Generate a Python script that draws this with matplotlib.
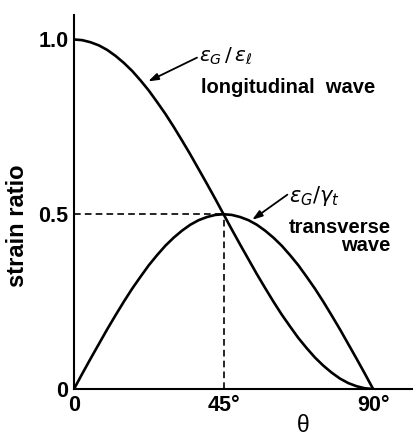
import matplotlib
matplotlib.use("Agg")
import matplotlib.pyplot as plt

# Angle of incidence (degrees) and strain ratios read at 2.5 degree steps
theta = [0, 2.5, 5, 7.5, 10, 12.5, 15, 17.5, 20, 22.5, 25, 27.5, 30, 32.5,
         35, 37.5, 40, 42.5, 45, 47.5, 50, 52.5, 55, 57.5, 60, 62.5, 65,
         67.5, 70, 72.5, 75, 77.5, 80, 82.5, 85, 87.5, 90]
longitudinal = [1.000, 0.998, 0.992, 0.983, 0.970, 0.953, 0.933, 0.910,
                0.883, 0.854, 0.821, 0.787, 0.750, 0.711, 0.671, 0.629,
                0.587, 0.544, 0.500, 0.456, 0.413, 0.371, 0.329, 0.289,
                0.250, 0.213, 0.179, 0.146, 0.117, 0.090, 0.067, 0.047,
                0.030, 0.017, 0.008, 0.002, 0.000]
transverse = [0.000, 0.044, 0.087, 0.129, 0.171, 0.211, 0.250, 0.287,
              0.321, 0.354, 0.383, 0.410, 0.433, 0.453, 0.470, 0.483,
              0.492, 0.498, 0.500, 0.498, 0.492, 0.483, 0.470, 0.453,
              0.433, 0.410, 0.383, 0.354, 0.321, 0.287, 0.250, 0.211,
              0.171, 0.129, 0.087, 0.044, 0.000]

peak_theta = 45
peak_ratio = 0.5

xticks = [0, 45, 90]
xtick_labels = ["0", "45°", "90°"]
yticks = [0, 0.5, 1.0]
ytick_labels = ["0", "0.5", "1.0"]

plt.rcParams["font.family"] = ["Liberation Sans", "DejaVu Sans"]
plt.rcParams["mathtext.fontset"] = "dejavusans"

W, H = 413, 436
fig = plt.figure(figsize=(W / 100, H / 100), dpi=100)
ax = fig.add_axes([74 / W, (H - 389) / H, (W - 74) / W, 374 / H])
ax.set_xlim(0, 102)
ax.set_ylim(0, 1.07)

lw = 1.9
ax.plot(theta, longitudinal, color="black", lw=lw, solid_capstyle="round",
        solid_joinstyle="round")
ax.plot(theta, transverse, color="black", lw=lw, solid_capstyle="round",
        solid_joinstyle="round")

# dashed guides to the crossing point
ax.plot([0, peak_theta], [peak_ratio, peak_ratio], color="black", lw=1.2,
        ls=(0, (4, 2.5)))
ax.plot([peak_theta, peak_theta], [0, peak_ratio], color="black", lw=1.2,
        ls=(0, (4, 2.5)))

for s in ["top", "right"]:
    ax.spines[s].set_visible(False)
for s in ["left", "bottom"]:
    ax.spines[s].set_linewidth(1.5)

ax.set_xticks(xticks)
ax.set_xticklabels(xtick_labels)
ax.set_yticks(yticks)
ax.set_yticklabels(ytick_labels)
ax.tick_params(length=0, labelsize=15.5, pad=4)
for lab in ax.get_xticklabels() + ax.get_yticklabels():
    lab.set_fontweight("bold")

ax.text(69, -0.105, "θ", fontsize=16.5, ha="center", va="center")
fig.text(18 / W, 1 - 226 / H, "strain ratio", rotation=90, fontsize=17,
         fontweight="bold", ha="center", va="center")

arrow = dict(arrowstyle="-|>,head_length=0.6,head_width=0.2", color="black",
             lw=1.3, shrinkA=0, shrinkB=0)

# longitudinal wave label
ax.annotate("", xy=(22.3, 0.880), xytext=(37.0, 0.948), arrowprops=arrow)
ax.text(37.6, 0.951, r"$\varepsilon_G\,/\,\varepsilon_\ell$", fontsize=14.5,
        ha="left", va="center")
ax.text(38.3, 0.862, "longitudinal  wave", fontsize=14.5, fontweight="bold",
        ha="left", va="center")

# transverse wave label
ax.annotate("", xy=(53.6, 0.484), xytext=(64.2, 0.556), arrowprops=arrow)
ax.text(64.7, 0.553, r"$\varepsilon_G/\gamma_t$", fontsize=15,
        ha="left", va="center")
ax.text(95.2, 0.461, "transverse", fontsize=14.5, fontweight="bold",
        ha="right", va="center")
ax.text(95.2, 0.411, "wave", fontsize=14.5, fontweight="bold",
        ha="right", va="center")

fig.savefig("out.png", dpi=100)
